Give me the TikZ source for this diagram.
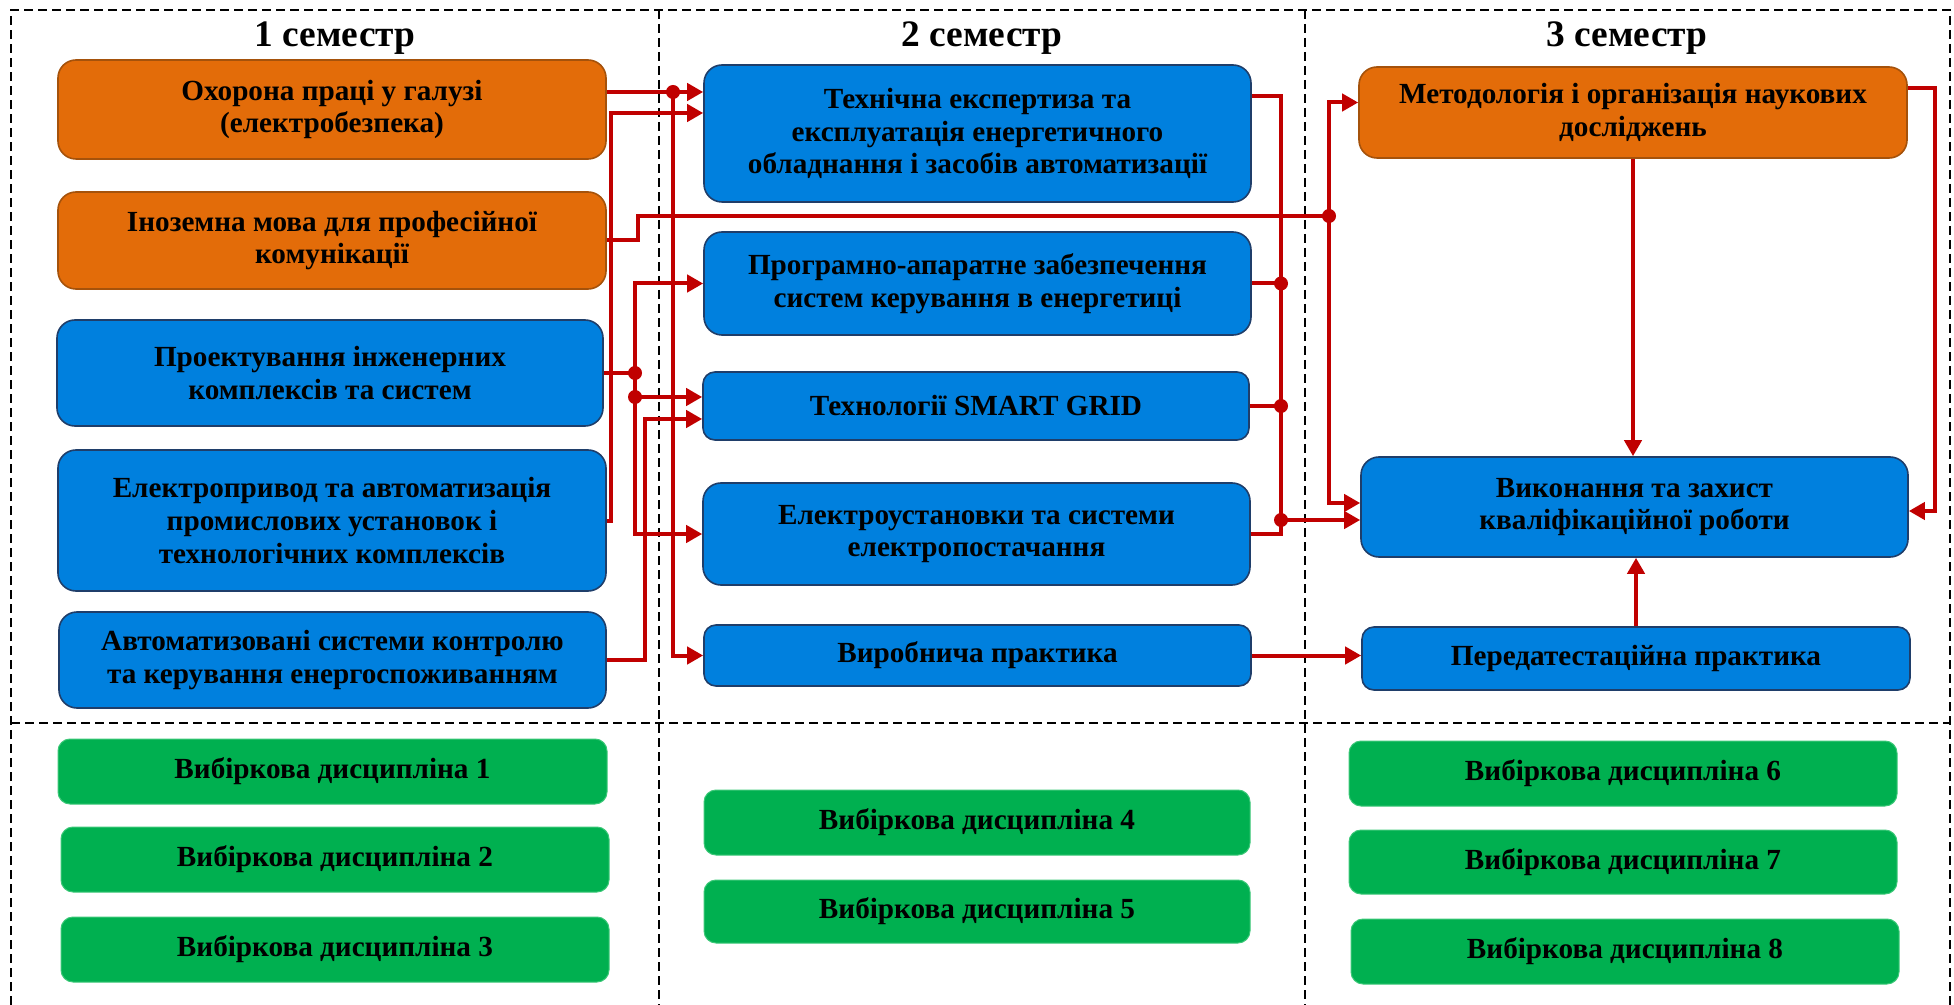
\documentclass[tikz,border=0pt]{standalone}
\usepackage{fontspec}
\setmainfont{Liberation Serif}
\usetikzlibrary{arrows.meta}
\definecolor{orfill}{HTML}{E36C09}
\definecolor{ordraw}{HTML}{A5520B}
\definecolor{blfill}{HTML}{0080DE}
\definecolor{bldraw}{HTML}{1F3E6A}
\definecolor{grfill}{HTML}{00B050}
\definecolor{grdraw}{HTML}{3CC878}
\definecolor{lnred}{HTML}{C00000}
\newcommand{\mkbox}[7]{%
  \pgfmathsetmacro{\mkcx}{(#3+#5)/2}%
  \pgfmathsetmacro{\mkcy}{(#4+#6)/2}%
  \pgfmathsetmacro{\mkw}{(#5-#3)*0.5}%
  \pgfmathsetmacro{\mkh}{(#6-#4)*0.5}%
  \node[#2, minimum width=\mkw pt, minimum height=\mkh pt] (#1) at (\mkcx,\mkcy) {#7};%
}
\begin{document}
\begin{tikzpicture}[x=0.5pt,y=-0.5pt,
  box/.style={rounded corners=9pt, align=center, inner sep=0pt, font=\fontsize{14.6}{16.4}\selectfont\bfseries, line width=0.8pt},
  obox/.style={box, fill=orfill, draw=ordraw},
  bbox/.style={box, fill=blfill, draw=bldraw},
  sbbox/.style={bbox, rounded corners=6pt},
  gbox/.style={box, fill=grfill, draw=grdraw, line width=0.5pt, rounded corners=6pt},
  hdr/.style={font=\fontsize{18.7}{21}\selectfont\bfseries, inner sep=0pt},
  redline/.style={draw=lnred, line width=2pt},
  arr/.style={redline, -{Triangle[length=8pt,width=8.5pt]}},
  frame/.style={draw=black, line width=1pt, dash pattern=on 4.5pt off 2.5pt}]
\useasboundingbox (0,0) rectangle (1954,1005);
% frame
\draw[frame] (11,1005) -- (11,10) -- (1950,10) -- (1950,1005);
\draw[frame] (659,10) -- (659,1005);
\draw[frame] (1305,10) -- (1305,1005);
\draw[frame] (11,723) -- (1950,723);
% headers
\node[hdr, anchor=base] (h1) at (335,47) {1 семестр};
\node[hdr, anchor=base] (h2) at (982,47) {2 семестр};
\node[hdr, anchor=base] (h3) at (1627,47) {3 семестр};
% column 1
\mkbox{ohor}{obox}{58}{60}{606}{159}{Охорона праці у галузі\\(електробезпека)}
\mkbox{inoz}{obox}{58}{192}{606}{289}{Іноземна мова для професійної\\комунікації}
\mkbox{proj}{bbox}{57}{320}{603}{426}{Проектування інженерних\\комплексів та систем}
\mkbox{elpr}{bbox}{58}{450}{606}{591}{Електропривод та автоматизація\\промислових установок і\\технологічних комплексів}
\mkbox{avt}{bbox}{59}{612}{606}{708}{Автоматизовані системи контролю\\та керування енергоспоживанням}
% column 2
\mkbox{tech}{bbox}{704}{65}{1251}{202}{Технічна експертиза та\\експлуатація енергетичного\\обладнання і засобів автоматизації}
\mkbox{prog}{bbox}{704}{232}{1251}{335}{Програмно-апаратне забезпечення\\систем керування в енергетиці}
\mkbox{smart}{sbbox}{703}{372}{1249}{440}{Технології SMART GRID}
\mkbox{elust}{bbox}{703}{483}{1250}{585}{Електроустановки та системи\\електропостачання}
\mkbox{vyr}{sbbox}{704}{625}{1251}{686}{Виробнича практика}
% column 3
\mkbox{metod}{obox}{1359}{67}{1907}{158}{Методологія і організація наукових\\досліджень}
\mkbox{vykon}{bbox}{1361}{457}{1908}{557}{Виконання та захист\\кваліфікаційної роботи}
\mkbox{pered}{sbbox}{1362}{627}{1910}{690}{Передатестаційна практика}
% electives
\mkbox{g1}{gbox}{58}{739}{607}{804}{Вибіркова дисципліна 1}
\mkbox{g2}{gbox}{61}{827}{609}{892}{Вибіркова дисципліна 2}
\mkbox{g3}{gbox}{61}{917}{609}{982}{Вибіркова дисципліна 3}
\mkbox{g4}{gbox}{704}{790}{1250}{855}{Вибіркова дисципліна 4}
\mkbox{g5}{gbox}{704}{880}{1250}{943}{Вибіркова дисципліна 5}
\mkbox{g6}{gbox}{1349}{741}{1897}{806}{Вибіркова дисципліна 6}
\mkbox{g7}{gbox}{1349}{830}{1897}{894}{Вибіркова дисципліна 7}
\mkbox{g8}{gbox}{1351}{919}{1899}{984}{Вибіркова дисципліна 8}
% junction coordinates
\coordinate (j1) at (673,92);
\coordinate (c2) at (611,113);
\coordinate (c3) at (638,216);
\coordinate (j3) at (1329,216);
\coordinate (x635) at (635,0);
\coordinate (j4) at (proj.east -| x635);
\coordinate (j5) at (635,397);
\coordinate (c6) at (645,419);
\coordinate (c7) at (1281,96);
\coordinate (j7) at (prog.east -| c7);
\coordinate (j8) at (smart.east -| c7);
\coordinate (j9) at (1281,520);
\coordinate (c10) at (1935,88);
% connectors column 1 -> 2
\draw[redline] (ohor.east |- j1) -- (j1);
\draw[arr] (j1) -- (tech.west |- j1);
\draw[arr] (j1) |- (vyr.west);
\draw[arr] (elpr.east) -| (c2) -- (tech.west |- c2);
\draw[redline] (inoz.east) -| (c3) -- (j3);
\draw[arr] (j3) |- ([yshift=5pt]metod.west);
\draw[arr] (j3) |- ([yshift=2pt]vykon.west);
\draw[redline] (proj.east) -- (j4);
\draw[arr] (j4) |- (prog.west);
\draw[arr] (j4) |- (elust.west);
\draw[arr] (j5) -- (smart.west |- j5);
\draw[arr] (avt.east) -| (c6) -- (smart.west |- c6);
% connectors column 2 -> 3
\draw[redline] (tech.east |- c7) -- (c7) -- (j9);
\draw[redline] (prog.east) -- (j7);
\draw[redline] (smart.east) -- (j8);
\draw[redline] (elust.east) -| (j9);
\draw[arr] (j9) -- (vykon.west |- j9);
\draw[arr] (vyr.east) -- (pered.west |- vyr.east);
\draw[arr] (metod.south) -- (metod.south |- vykon.north);
\draw[arr] (metod.east |- c10) -- (c10) |- ([yshift=-2pt]vykon.east);
\draw[arr] (pered.north) -- (pered.north |- vykon.south);
% dots
\foreach \p in {j1,j3,j4,j5,j7,j8,j9} \fill[lnred] (\p) circle (3.5pt);
\end{tikzpicture}
\end{document}
